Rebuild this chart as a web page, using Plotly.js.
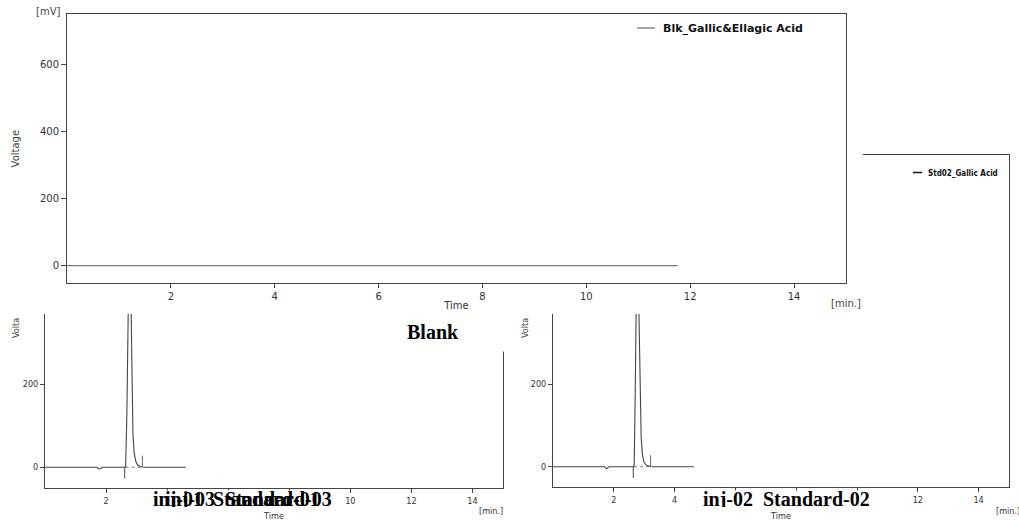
<!DOCTYPE html>
<html>
<head>
<meta charset="utf-8">
<script src="https://cdn.plot.ly/plotly-3.0.1.min.js"></script>
<style>
  html, body { margin: 0; padding: 0; background: #ffffff; }
  #chart { width: 1019px; height: 521px; }
</style>
</head>
<body>
<div id="chart"></div>
<script>
// ---------- data ----------
const timeTicks = [2, 4, 6, 8, 10, 12, 14];
const voltTicks = [0, 200, 400, 600];
// tick labels visible in the bottom panels (others are covered by the sample names)
const std03TickText = ['2', '', '', '', '10', '12', '14'];
const std02TickText = ['2', '4', '', '', '', '12', '14'];

// Blank run: flat baseline
const blankName = "Blk_Gallic&Ellagic Acid";
const blankTime = [0, 11.76];
const blankVolt = [0, 0];

// Std02 panel (hidden behind the other panels; only its legend shows)
const std02LegendName = "Std02_Gallic Acid";

// inj-03 Standard-03 (bottom left)
const std03Time = [0, 1.70, 1.74, 1.78, 1.83, 1.88, 2.60, 2.64, 2.68, 2.72, 2.77, 2.82, 2.85, 2.88, 2.92, 2.97, 3.03, 3.10, 3.20, 3.30, 4.61];
const std03Volt = [0, 0, -3, -4, -3, 0, 0, 1, 120, 380, 620, 380, 180, 80, 35, 15, 6, 2, 0.5, 0, 0];
const std03StartTime = [2.61, 2.61];
const std03StartVolt = [0, -27];
const std03EndTime = [3.19, 3.19];
const std03EndVolt = [0, 28];
const std03BaseTime = [2.64, 3.19];
const std03BaseVolt = [0, 0];

// inj-02 Standard-02 (bottom right)
const std02Time = [0, 1.70, 1.73, 1.76, 1.80, 1.84, 2.62, 2.67, 2.70, 2.73, 2.77, 2.82, 2.86, 2.90, 2.94, 2.99, 3.05, 3.12, 3.22, 3.30, 4.63];
const std02Volt = [0, 0, -3, -4, -3, 0, 0, 2, 150, 390, 600, 400, 180, 70, 30, 12, 5, 2, 0.5, 0, 0];
const std02StartTime = [2.64, 2.64];
const std02StartVolt = [0, -27];
const std02EndTime = [3.21, 3.21];
const std02EndVolt = [0, 28];
const std02BaseTime = [2.67, 3.21];
const std02BaseVolt = [0, 0];

// ---------- helpers for pixel -> paper placement ----------
const W = 1019, H = 521;
const px = v => v / W;
const py = v => 1 - v / H;

const AX = '#444';
const narrow = "'Liberation Sans Narrow', 'Arial Narrow', 'DejaVu Sans Condensed', 'Roboto Condensed', sans-serif";
const wide = "'DejaVu Sans', Verdana, sans-serif";
const serif = "'Liberation Serif', 'Times New Roman', serif";

function lineTrace(x, y, xa, ya, color, width, dash, name) {
  return { x: x, y: y, xaxis: xa, yaxis: ya, type: 'scatter', mode: 'lines',
           line: { color: color, width: width, dash: dash || 'solid' },
           name: name || '', showlegend: false, hoverinfo: 'skip', cliponaxis: true };
}

const traces = [
  lineTrace(blankTime, blankVolt, 'x', 'y', '#777', 1.3, 'solid', blankName),

  lineTrace(std03Time, std03Volt, 'x2', 'y2', '#444', 1.1, 'solid', 'inj-03_Standard-03'),
  lineTrace(std03StartTime, std03StartVolt, 'x2', 'y2', '#444', 1, 'solid'),
  lineTrace(std03EndTime, std03EndVolt, 'x2', 'y2', '#666', 1, 'solid'),
  lineTrace(std03BaseTime, std03BaseVolt, 'x2', 'y2', '#777', 1, 'dot'),

  lineTrace(std02Time, std02Volt, 'x3', 'y3', '#444', 1.1, 'solid', 'inj-02_Standard-02'),
  lineTrace(std02StartTime, std02StartVolt, 'x3', 'y3', '#444', 1, 'solid'),
  lineTrace(std02EndTime, std02EndVolt, 'x3', 'y3', '#666', 1, 'solid'),
  lineTrace(std02BaseTime, std02BaseVolt, 'x3', 'y3', '#777', 1, 'dot'),

  { x: [], y: [], xaxis: 'x4', yaxis: 'y4', type: 'scatter', mode: 'lines',
    name: std02LegendName, showlegend: false, hoverinfo: 'skip' }
];

function xAxisBase(domain, anchor, fontFam, fontSize, titleText, standoff) {
  return {
    domain: domain, anchor: anchor, range: [0, 15], tickvals: timeTicks,
    showline: true, linecolor: AX, linewidth: 1, ticks: 'outside', ticklen: 4,
    tickcolor: AX, tickwidth: 1, showgrid: false, zeroline: false, fixedrange: true,
    tickfont: { family: fontFam, size: fontSize, color: '#333' },
    title: { text: titleText, font: { family: fontFam, size: fontSize, color: '#333' }, standoff: standoff }
  };
}
function yAxisBase(domain, anchor, range, fontFam, fontSize, ticklen) {
  return {
    domain: domain, anchor: anchor, range: range, tickvals: voltTicks,
    showline: true, linecolor: AX, linewidth: 1, ticks: 'outside', ticklen: ticklen,
    tickcolor: AX, tickwidth: 1, showgrid: false, zeroline: false, fixedrange: true,
    tickfont: { family: fontFam, size: fontSize, color: '#333' }
  };
}

const xaxis = xAxisBase([px(67), px(846)], 'y', wide, 10, 'Time', 0);
xaxis.mirror = true;
const yaxis = yAxisBase([py(283), py(14.3)], 'x', [-51.5, 749.5], wide, 10, 5);
yaxis.mirror = true;
yaxis.title = { text: 'Voltage', font: { family: wide, size: 10, color: '#444' }, standoff: 18 };

const xaxis2 = xAxisBase([px(45), px(503)], 'y2', narrow, 9, 'Time', 8);
xaxis2.ticktext = std03TickText;
const yaxis2 = yAxisBase([py(488.3), py(314)], 'x2', [-50.6, 368.7], narrow, 9, 4);
yaxis2.mirror = true;

const xaxis3 = xAxisBase([px(553), px(1009)], 'y3', narrow, 9, 'Time', 8);
xaxis3.ticktext = std02TickText;
const yaxis3 = yAxisBase([py(487.3), py(314)], 'x3', [-49.8, 369.3], narrow, 9, 4);
yaxis3.mirror = true;

const xaxis4 = { domain: [px(863), px(1009)], anchor: 'y4', side: 'top', range: [0, 15],
  showline: true, linecolor: AX, linewidth: 1, ticks: '', showticklabels: false,
  showgrid: false, zeroline: false, fixedrange: true };
const yaxis4 = { domain: [py(314), py(155)], anchor: 'x4', side: 'right', range: [-50, 370],
  showline: true, linecolor: AX, linewidth: 1, ticks: '', showticklabels: false,
  showgrid: false, zeroline: false, fixedrange: true };

function ann(text, x, y, opts) {
  return Object.assign({ text: text, x: px(x), y: py(y), xref: 'paper', yref: 'paper',
    showarrow: false, xanchor: 'center', yanchor: 'middle' }, opts || {});
}

const annotations = [
  ann('[mV]', 48, 12, { font: { family: wide, size: 10, color: '#444' } }),
  ann('[min.]', 846, 303, { font: { family: wide, size: 10, color: '#444' } }),
  ann('<b>' + blankName.replace('&', '&amp;') + '</b>', 661, 28,
      { xanchor: 'left', font: { family: wide, size: 11, color: '#111' } }),
  ann('<b>' + std02LegendName + '</b>', 926, 173,
      { xanchor: 'left', font: { family: narrow, size: 8, color: '#111' } }),

  ann('<b>Blank</b>', 433, 332,
      { width: 160, height: 38, bgcolor: '#ffffff', borderpad: 0,
        font: { family: serif, size: 20, color: '#000' } }),

  ann('Volta', 16, 328, { textangle: -90, font: { family: narrow, size: 9, color: '#444' } }),
  ann('Volta', 525, 328, { textangle: -90, font: { family: narrow, size: 9, color: '#444' } }),
  ann('[min.]', 491, 511, { font: { family: narrow, size: 9, color: '#333' } }),
  ann('[min.]', 1008, 511, { font: { family: narrow, size: 9, color: '#333' } }),

  ann('<b>inj-01_Standard-01</b>', 152, 499,
      { xanchor: 'left', height: 16, bgcolor: '#ffffff', borderpad: 0,
        font: { family: serif, size: 20, color: '#000' } }),
  ann('<b>inj-03_Standard-03</b>', 164, 499,
      { xanchor: 'left', height: 16, borderpad: 0,
        font: { family: serif, size: 20, color: '#000' } }),
  ann('<b>inj-02_Standard-02</b>', 702, 499,
      { xanchor: 'left', height: 16, bgcolor: '#ffffff', borderpad: 0,
        font: { family: serif, size: 20, color: '#000' } })
];

const shapes = [
  { type: 'line', xref: 'paper', yref: 'paper', x0: px(637), x1: px(655), y0: py(28), y1: py(28),
    line: { color: '#888', width: 1.5 } },
  { type: 'line', xref: 'paper', yref: 'paper', x0: px(913), x1: px(922), y0: py(172.5), y1: py(172.5),
    line: { color: '#111', width: 1.5 } }
];

const layout = {
  width: W, height: H,
  margin: { l: 0, r: 0, t: 0, b: 0, pad: 0 },
  paper_bgcolor: '#ffffff', plot_bgcolor: 'rgba(0,0,0,0)',
  showlegend: false,
  font: { family: wide, size: 10, color: '#333' },
  xaxis: xaxis, yaxis: yaxis,
  xaxis2: xaxis2, yaxis2: yaxis2,
  xaxis3: xaxis3, yaxis3: yaxis3,
  xaxis4: xaxis4, yaxis4: yaxis4,
  annotations: annotations,
  shapes: shapes
};

Plotly.newPlot('chart', traces, layout, { displayModeBar: false, staticPlot: true });
</script>
</body>
</html>
